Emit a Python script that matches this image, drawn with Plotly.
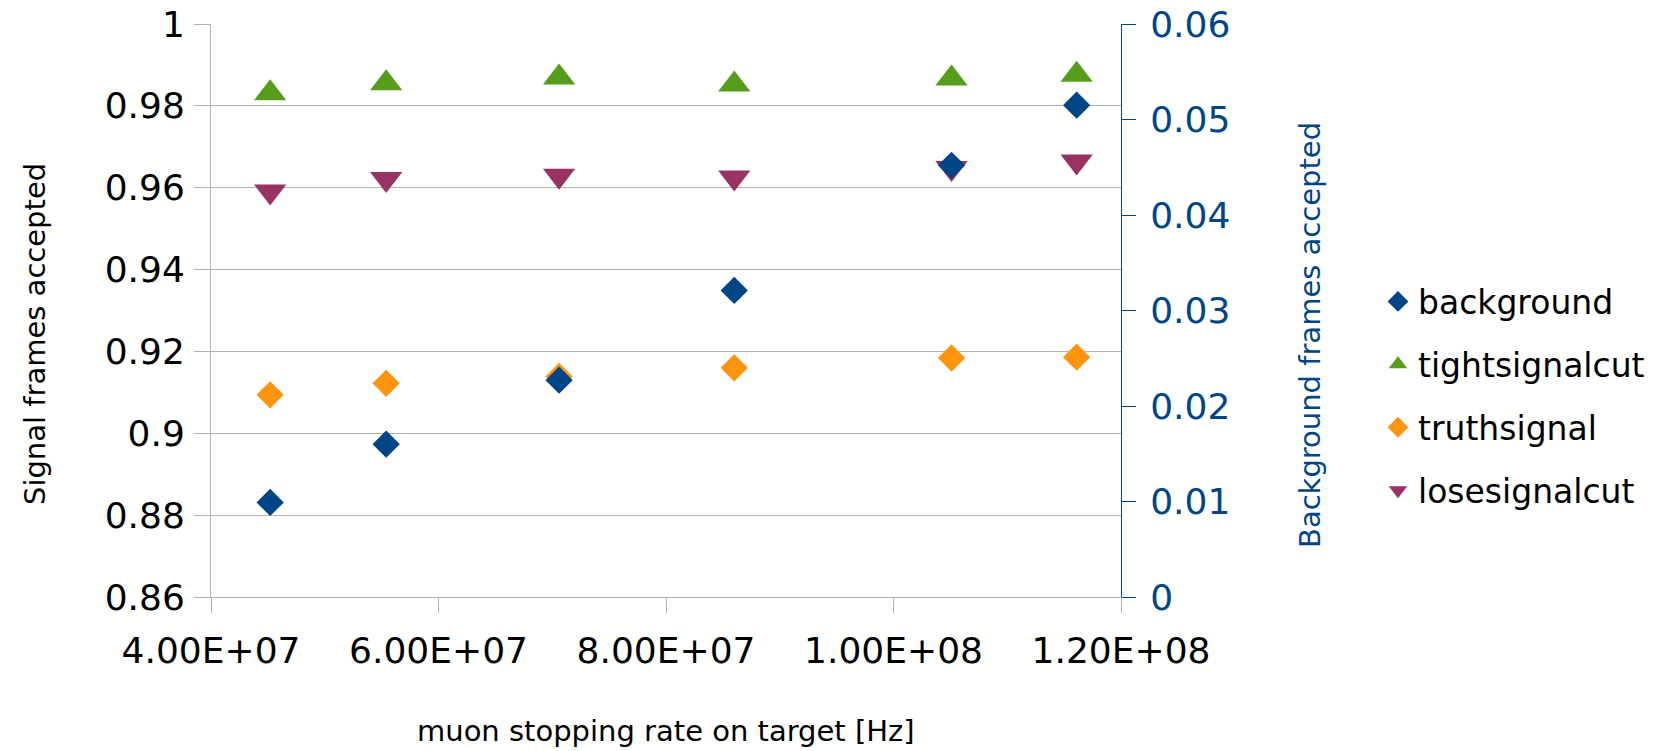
import plotly.graph_objects as go

# ---- data ----
rate = [4.52e7, 5.54e7, 7.06e7, 8.60e7, 1.051e8, 1.161e8]
background = [0.0099, 0.0160, 0.0227, 0.0321, 0.0452, 0.0515]
tightsignalcut = [0.9831, 0.9855, 0.9869, 0.9852, 0.9867, 0.9876]
truthsignal = [0.9094, 0.9122, 0.9139, 0.9160, 0.9184, 0.9186]
losesignalcut = [0.9591, 0.9621, 0.9629, 0.9625, 0.9648, 0.9664]

x_ticks = [4e7, 6e7, 8e7, 1e8, 1.2e8]
x_ticktext = ["4.00E+07", "6.00E+07", "8.00E+07", "1.00E+08", "1.20E+08"]
y_ticks = [0.86, 0.88, 0.90, 0.92, 0.94, 0.96, 0.98, 1.0]
y_ticktext = ["0.86", "0.88", "0.9", "0.92", "0.94", "0.96", "0.98", "1"]
y2_ticks = [0, 0.01, 0.02, 0.03, 0.04, 0.05, 0.06]
y2_ticktext = ["0", "0.01", "0.02", "0.03", "0.04", "0.05", "0.06"]

FONT = "DejaVu Sans"
BLUE = "#004586"
GREEN = "#579d1c"
ORANGE = "#ff950e"
PURPLE = "#993366"
GRID = "#b3b3b3"

# plot area at x 211..1121, y 24..597 in the window (body margin removed below)
L, R, T, B = 211, 1661 - 1121, 24, 751 - 597
PW, PH = 1121 - 211, 597 - 24

fig = go.Figure()
fig.add_trace(go.Scatter(x=rate, y=background, name="background", mode="markers",
                         yaxis="y2", legendgroup="a",
                         marker=dict(symbol="diamond", size=21, color=BLUE, line=dict(width=0))))
fig.add_trace(go.Scatter(x=rate, y=tightsignalcut, name="tightsignalcut", mode="markers",
                         legendgroup="b",
                         marker=dict(symbol="triangle-up", size=28, color=GREEN, line=dict(width=0))))
fig.add_trace(go.Scatter(x=rate, y=truthsignal, name="truthsignal", mode="markers",
                         legendgroup="c",
                         marker=dict(symbol="diamond", size=21, color=ORANGE, line=dict(width=0))))
fig.add_trace(go.Scatter(x=rate, y=losesignalcut, name="losesignalcut", mode="markers",
                         legendgroup="d",
                         marker=dict(symbol="triangle-down", size=28, color=PURPLE, line=dict(width=0))))

fig.update_layout(
    width=1661, height=751,
    margin=dict(l=L, r=R, t=T, b=B, autoexpand=False),
    paper_bgcolor="white", plot_bgcolor="white",
    font=dict(family=FONT, color="black"),
    showlegend=True,
    legend=dict(x=(1378 - 211) / PW, y=(597 - 396) / PH, xanchor="left", yanchor="middle",
                font=dict(family=FONT, size=33, color="black"),
                tracegroupgap=17, bgcolor="rgba(0,0,0,0)"),
    xaxis=dict(range=[4e7, 1.2e8], tickvals=x_ticks, ticktext=x_ticktext, automargin=False,
               showgrid=False, zeroline=False, showline=True, linecolor=GRID, linewidth=1,
               ticks="outside", ticklen=15, tickcolor=GRID, tickwidth=1,
               ticklabelstandoff=7,
               tickfont=dict(family=FONT, size=36, color="black")),
    yaxis=dict(range=[0.86, 1.0], tickvals=y_ticks, ticktext=y_ticktext, automargin=False,
               showgrid=True, gridcolor=GRID, gridwidth=1, zeroline=False,
               showline=True, linecolor=GRID, linewidth=1,
               ticks="outside", ticklen=16, tickcolor=GRID, tickwidth=1,
               ticklabelstandoff=2,
               tickfont=dict(family=FONT, size=36, color="black")),
    yaxis2=dict(range=[0, 0.06], tickvals=y2_ticks, ticktext=y2_ticktext, automargin=False,
                overlaying="y", side="right", showgrid=False, zeroline=False,
                showline=True, linecolor=BLUE, linewidth=1,
                ticks="outside", ticklen=14, tickcolor=BLUE, tickwidth=1,
                ticklabelstandoff=7,
                tickfont=dict(family=FONT, size=36, color=BLUE)),
)

fig.add_annotation(text="Signal frames accepted", xref="paper", yref="paper",
                   x=(35 - 211) / PW, y=(597 - 334) / PH, textangle=-90,
                   showarrow=False, xanchor="center", yanchor="middle",
                   font=dict(family=FONT, size=29, color="black"))
fig.add_annotation(text="Background frames accepted", xref="paper", yref="paper",
                   x=(1310 - 211) / PW, y=(597 - 335) / PH, textangle=-90,
                   showarrow=False, xanchor="center", yanchor="middle",
                   font=dict(family=FONT, size=29, color=BLUE))
fig.add_annotation(text="muon stopping rate on target [Hz]", xref="paper", yref="paper",
                   x=0.5, y=(597 - 731) / PH,
                   showarrow=False, xanchor="center", yanchor="middle",
                   font=dict(family=FONT, size=29, color="black"))

fig.write_html("out.html", config={"displayModeBar": False},
               post_script="document.body.style.margin='0';")
